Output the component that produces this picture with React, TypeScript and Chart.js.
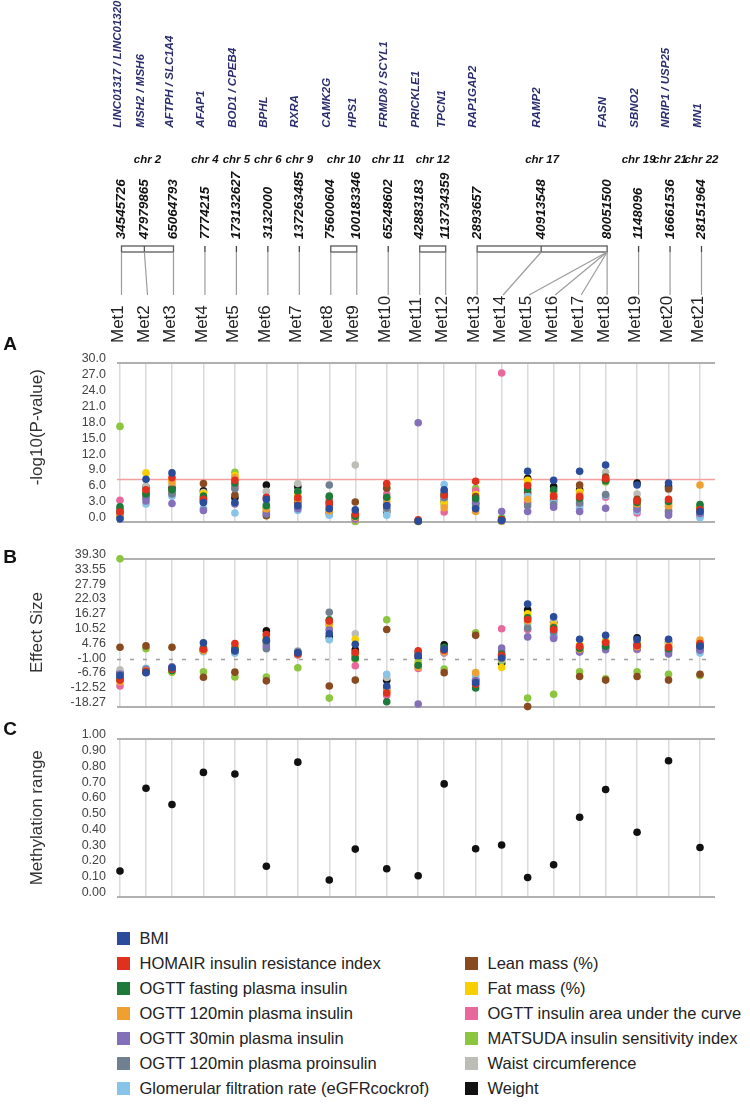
import React, { useEffect, useRef } from 'react';
import { Chart, registerables } from 'chart.js';

Chart.register(...registerables);

// ---------------- data ----------------
const metLabels = ['Met1', 'Met2', 'Met3', 'Met4', 'Met5', 'Met6', 'Met7', 'Met8', 'Met9', 'Met10', 'Met11', 'Met12', 'Met13', 'Met14', 'Met15', 'Met16', 'Met17', 'Met18', 'Met19', 'Met20', 'Met21'];
const metChromosomes = ['2', '2', '2', '4', '5', '6', '9', '10', '10', '11', '12', '12', '17', '17', '17', '17', '17', '17', '19', '21', '22'];

const siteChromosomes = ['2', '2', '2', '4', '5', '6', '9', '10', '10', '11', '12', '12', '17', '17', '17', '19', '21', '22'];
const sitePositions = [34545726, 47979865, 65064793, 7774215, 173132627, 3132000, 137263485, 75600604, 100183346, 65248602, 42883183, 113734359, 2893657, 40913548, 80051500, 1148096, 16661536, 28151964];
const siteGenes = ['LINC01317 / LINC01320', 'MSH2 / MSH6', 'AFTPH / SLC1A4', 'AFAP1', 'BOD1 / CPEB4', 'BPHL', 'RXRA', 'CAMK2G', 'HPS1', 'FRMD8 / SCYL1', 'PRICKLE1', 'TPCN1', 'RAP1GAP2', 'RAMP2', 'FASN', 'SBNO2', 'NRIP1 / USP25', 'MN1'];
const siteMets = [[1], [2], [3], [4], [5], [6], [7], [8], [9], [10], [11], [12], [13], [14], [15, 16, 17, 18], [19], [20], [21]];

const traitNames = ['BMI', 'HOMAIR insulin resistance index', 'OGTT fasting plasma insulin', 'OGTT 120min plasma insulin', 'OGTT 30min plasma insulin', 'OGTT 120min plasma proinsulin', 'Glomerular filtration rate (eGFRcockrof)', 'Lean mass (%)', 'Fat mass (%)', 'OGTT insulin area under the curve', 'MATSUDA insulin sensitivity index', 'Waist circumference', 'Weight'];

// -log10(P-value), Met1..Met21
const pBMI = [0.5, 8.0, 9.2, 3.6, 3.6, 4.2, 3.0, 2.4, 2.2, 3.0, 0.1, 6.0, 2.4, 0.2, 9.5, 7.8, 9.5, 10.7, 6.9, 7.3, 1.9];
const pHOMAIR = [1.8, 6.0, 8.3, 4.2, 7.8, 4.6, 4.5, 3.3, 1.4, 7.2, 0.3, 5.0, 7.6, 0.3, 6.8, 4.8, 4.7, 8.1, 3.9, 4.2, 2.2];
const pFastingIns = [2.8, 5.2, 6.0, 4.8, 7.3, 3.0, 5.7, 4.8, 1.0, 4.6, 0.1, 5.2, 4.3, 0.4, 6.1, 6.0, 4.4, 7.7, 3.6, 3.8, 3.2];
const pIns120 = [1.2, 5.8, 7.5, 4.4, 8.3, 2.4, 4.2, 2.0, 0.8, 3.8, 0.1, 2.6, 1.9, 0.1, 4.2, 5.1, 5.1, 7.8, 3.3, 3.0, 6.9];
const pIns30 = [1.5, 3.9, 3.4, 2.1, 3.3, 1.6, 2.4, 2.8, 0.5, 3.2, 18.7, 5.6, 3.8, 1.9, 1.9, 2.7, 1.9, 2.5, 2.3, 1.2, 1.5];
const pProins120 = [1.0, 4.5, 5.2, 3.8, 6.2, 1.4, 2.8, 6.9, 0.9, 2.5, 0.1, 4.5, 3.0, 0.2, 3.0, 3.2, 3.5, 5.1, 3.0, 1.9, 1.7];
const pEGFR = [0.9, 3.3, 4.8, 2.5, 1.6, 3.3, 2.1, 1.2, 0.6, 1.2, 0.1, 7.0, 2.7, 0.1, 4.8, 3.6, 2.5, 4.9, 2.0, 1.6, 0.7];
const pLean = [2.2, 5.5, 6.2, 7.2, 5.0, 1.1, 3.8, 3.6, 3.7, 6.3, 0.0, 4.8, 4.7, 0.2, 5.5, 3.9, 6.9, 8.4, 4.2, 6.2, 2.4];
const pFat = [1.3, 9.2, 7.9, 5.3, 8.7, 1.9, 5.4, 2.1, 0.7, 4.3, 0.1, 3.6, 5.1, 0.1, 7.8, 5.4, 5.6, 7.9, 4.0, 2.8, 2.7];
const pAUC = [4.0, 4.8, 5.4, 4.0, 6.6, 2.1, 3.4, 3.9, 0.4, 5.2, 0.1, 1.8, 5.8, 28.1, 3.6, 4.5, 3.0, 4.6, 1.6, 2.2, 1.0];
const pMatsuda = [18.0, 5.0, 5.8, 4.5, 9.3, 2.7, 4.8, 4.5, 0.0, 6.6, 0.1, 3.2, 6.3, 0.7, 5.2, 5.7, 3.9, 7.5, 2.7, 3.4, 2.9];
const pWaist = [0.7, 6.7, 6.9, 5.5, 7.0, 5.7, 7.2, 1.9, 10.7, 2.2, 0.1, 4.0, 2.6, 0.0, 7.2, 4.2, 3.3, 9.3, 5.2, 6.0, 1.1];
const pWeight = [1.6, 6.5, 6.5, 5.8, 4.5, 6.9, 6.6, 1.6, 1.2, 1.9, 0.1, 3.9, 3.4, 0.3, 8.2, 6.6, 6.0, 7.8, 7.3, 6.6, 1.3];

// Effect size, Met1..Met21
const esBMI = [-6.2, -5.1, -3.2, 6.5, 3.4, 7.6, 2.6, 10.0, 5.9, -10.3, 1.5, 4.0, -9.0, 0.6, 21.6, 16.6, 7.9, 9.4, 7.8, 7.9, 5.2];
const esHOMAIR = [-8.0, -4.6, -3.8, 4.0, 6.2, 9.7, 2.2, 15.0, 2.8, -13.0, 3.4, 3.6, -9.6, 1.6, 15.6, 11.7, 5.2, 6.6, 5.4, 4.8, 6.2];
const esFastingIns = [-7.5, -4.8, -4.3, 4.2, 4.2, 7.3, 2.5, 15.5, 0.6, -16.4, -2.2, 4.8, -11.1, 2.1, 16.2, 12.3, 4.4, 5.2, 5.8, 4.2, 5.7];
const esIns120 = [-8.6, -4.4, -4.0, 3.4, 5.1, 8.9, 2.1, 14.3, 1.5, -12.4, -3.0, 3.0, -5.1, 0.3, 15.0, 12.9, 4.0, 6.2, 5.0, 5.2, 7.6];
const esIns30 = [-5.6, -4.0, -2.8, 3.5, 3.6, 5.7, 2.4, 11.7, 2.2, -11.5, -17.3, 3.0, -8.2, 4.5, 8.8, 8.2, 2.9, 3.8, 4.1, 2.2, 3.6];
const esProins120 = [-7.0, -3.8, -3.0, 4.5, 3.2, 4.2, 3.0, 18.4, 1.9, -11.0, 2.6, 3.3, -8.5, 3.3, 12.3, 10.6, 3.3, 4.8, 4.6, 3.5, 4.0];
const esEGFR = [-6.6, -3.4, -3.3, 3.0, 2.4, 5.0, 2.0, 7.7, 1.0, -5.7, -2.6, 2.8, -6.2, 0.0, 14.1, 9.6, 3.1, 4.4, 4.3, 3.8, 2.5];
const esLean = [4.8, 5.3, 4.8, -6.9, -4.9, -8.3, 2.0, -10.3, -8.0, 11.7, 2.2, -5.1, 9.4, 1.0, -18.3, 9.0, -6.6, -8.0, -6.6, -8.0, -5.7];
const esFat = [-7.8, -4.2, -4.4, 3.8, 4.6, 8.3, 2.3, 12.8, 7.9, -12.0, -2.0, 3.8, -5.5, -3.1, 17.8, 13.5, 5.6, 7.0, 6.2, 5.6, 6.8];
const esAUC = [-10.3, -4.3, -3.6, 3.2, 4.0, 7.0, 1.8, 13.5, -2.4, -14.0, -3.5, 2.5, -9.8, 12.0, 11.7, 11.2, 3.6, 5.7, 3.9, 3.0, 4.4];
const esMatsuda = [39.2, 4.2, -4.9, -4.8, -6.8, -6.8, -3.2, -15.0, 0.1, 15.5, -1.0, -3.7, 10.4, -0.5, -15.0, -13.5, -4.8, -7.5, -4.8, -5.7, -6.2];
const esWaist = [-4.0, -3.9, -3.5, 5.0, 3.0, 6.6, 3.4, 11.2, 10.0, -7.0, 2.0, 4.4, -7.0, 1.3, 16.9, 15.2, 4.6, 7.6, 7.2, 6.3, 3.2];
const esWeight = [-5.1, -4.9, -4.1, 3.6, 3.9, 11.2, 2.6, 8.8, 3.8, -8.1, 1.0, 5.7, -7.8, -1.4, 19.3, 14.5, 4.9, 6.9, 8.5, 6.8, 4.8];

const methylationRange = [0.162, 0.687, 0.584, 0.788, 0.778, 0.192, 0.853, 0.105, 0.301, 0.176, 0.132, 0.715, 0.303, 0.327, 0.121, 0.202, 0.503, 0.679, 0.408, 0.862, 0.311];

const pValueTicks = [0, 3, 6, 9, 12, 15, 18, 21, 24, 27, 30];
const effectTicks = [-18.27, -12.52, -6.76, -1.0, 4.76, 10.52, 16.27, 22.03, 27.79, 33.55, 39.3];
const methylationTicks = [0, 0.1, 0.2, 0.3, 0.4, 0.5, 0.6, 0.7, 0.8, 0.9, 1.0];
const pThreshold = 7.95;
const effectZero = 0;

const pValues = [pBMI, pHOMAIR, pFastingIns, pIns120, pIns30, pProins120, pEGFR, pLean, pFat, pAUC, pMatsuda, pWaist, pWeight];
const effectSizes = [esBMI, esHOMAIR, esFastingIns, esIns120, esIns30, esProins120, esEGFR, esLean, esFat, esAUC, esMatsuda, esWaist, esWeight];

// ---------------- style / layout ----------------
const traitColors = ['#2b4c9b', '#e0301e', '#1e7a3a', '#f0a030', '#8470b8', '#708090', '#88c4e8', '#8a4a20', '#f8d000', '#e8689c', '#8cc63e', '#bdbdb8', '#111111'];
const FONT = '"Liberation Sans", Arial, Helvetica, sans-serif';
Chart.defaults.font.family = FONT;

const SAME_CHR_STEP = 1;
const NEW_CHR_STEP = 1.21;
const metX: number[] = [];
metChromosomes.forEach((c, i) => {
  metX.push(i === 0 ? 0 : metX[i - 1] + (c === metChromosomes[i - 1] ? SAME_CHR_STEP : NEW_CHR_STEP));
});
const X_MIN = metX[0] - 0.115;
const X_MAX = metX[metX.length - 1] + 0.577;

const CHART_LEFT = 117;
const POINT_R = 3.8;

function xScale() {
  return {
    type: 'linear',
    min: X_MIN,
    max: X_MAX,
    afterBuildTicks: (s: any) => { s.ticks = metX.map((v) => ({ value: v })); },
    afterFit: (s: any) => { s.height = 0; },
    ticks: { display: false },
    grid: { color: '#dadada', lineWidth: 1.5, drawTicks: false },
    border: { display: false },
  };
}

function yScale(min: number, max: number, ticks: number[], digits: number) {
  return {
    type: 'linear',
    min,
    max,
    afterBuildTicks: (s: any) => { s.ticks = ticks.map((v) => ({ value: v })); },
    afterFit: (s: any) => { s.width = CHART_LEFT; },
    ticks: {
      autoSkip: false,
      padding: 11,
      labelOffset: -4,
      color: '#444',
      font: { size: 12.5, family: FONT },
      callback: (v: any) => Number(v).toFixed(digits),
    },
    grid: {
      drawTicks: false,
      lineWidth: 2,
      color: (c: any) => {
        const v = c.tick ? c.tick.value : NaN;
        return Math.abs(v - min) < 1e-9 || Math.abs(v - max) < 1e-9 ? '#b0b0b0' : 'rgba(0,0,0,0)';
      },
    },
    border: { display: false },
  };
}

function vText(ctx: CanvasRenderingContext2D, text: string, x: number, y: number, font: string, color: string, align: CanvasTextAlign = 'left') {
  ctx.save();
  ctx.translate(x, y);
  ctx.rotate(-Math.PI / 2);
  ctx.font = font;
  ctx.fillStyle = color;
  ctx.textAlign = align;
  ctx.textBaseline = 'middle';
  ctx.fillText(text, 0, 0);
  ctx.restore();
}

function drawTitleAndLetter(chart: any, title: string, shift: number, letter: string, letterY: number) {
  const ctx = chart.ctx as CanvasRenderingContext2D;
  const a = chart.chartArea;
  vText(ctx, title, 37, (a.top + a.bottom) / 2 + shift, `17px ${FONT}`, '#333', 'center');
  ctx.save();
  ctx.font = `bold 19px ${FONT}`;
  ctx.fillStyle = '#111';
  ctx.textAlign = 'center';
  ctx.textBaseline = 'middle';
  ctx.fillText(letter, 10, letterY);
  ctx.restore();
}

function drawAnnotation(chart: any) {
  const ctx = chart.ctx as CanvasRenderingContext2D;
  const xs = chart.scales.x;
  const DX = 1.5;
  const metPx = (m: number) => xs.getPixelForValue(metX[m - 1]);
  const groups: { chr: string; sites: number[]; x0: number; x1: number }[] = [];
  siteChromosomes.forEach((c, s) => {
    const g = groups[groups.length - 1];
    if (g && g.chr === c) g.sites.push(s);
    else groups.push({ chr: c, sites: [s], x0: 0, x1: 0 });
  });
  const siteX: number[] = [];
  groups.forEach((g) => {
    const first = g.sites[0];
    const last = g.sites[g.sites.length - 1];
    const lm = siteMets[last];
    g.x0 = metPx(siteMets[first][0]) + DX;
    g.x1 = metPx(lm[lm.length - 1]) + DX;
    const p0 = sitePositions[first];
    const p1 = sitePositions[last];
    g.sites.forEach((s) => {
      siteX[s] = g.sites.length === 1 ? g.x0 : g.x0 + ((g.x1 - g.x0) * (sitePositions[s] - p0)) / (p1 - p0);
    });
  });

  // gene names
  siteGenes.forEach((gname, s) => vText(ctx, gname, siteX[s] - 4, 127.7, `italic bold 11.5px ${FONT}`, '#2b2d6e'));
  // chromosome labels
  ctx.save();
  ctx.font = `italic bold 11.5px ${FONT}`;
  ctx.fillStyle = '#111';
  ctx.textAlign = 'center';
  ctx.textBaseline = 'middle';
  groups.forEach((g) => ctx.fillText('chr ' + g.chr, (g.x0 + g.x1) / 2, 160));
  ctx.restore();
  // positions
  sitePositions.forEach((p, s) => vText(ctx, String(p), siteX[s], 239.3, `italic bold 13.5px ${FONT}`, '#111'));

  // brackets
  ctx.save();
  ctx.lineWidth = 1.3;
  groups.forEach((g) => {
    ctx.strokeStyle = '#5a5a5a';
    if (g.sites.length > 1) {
      ctx.strokeRect(g.x0, 246, g.x1 - g.x0, 6);
      g.sites.slice(1, -1).forEach((s) => {
        ctx.beginPath();
        ctx.moveTo(siteX[s], 246);
        ctx.lineTo(siteX[s], 252);
        ctx.stroke();
      });
    } else {
      ctx.strokeStyle = '#444';
      ctx.beginPath();
      ctx.moveTo(g.x0, 246);
      ctx.lineTo(g.x0, 252);
      ctx.stroke();
    }
  });
  // connectors
  ctx.strokeStyle = '#9c9c9c';
  ctx.lineWidth = 1.2;
  siteMets.forEach((mets, s) => {
    mets.forEach((m) => {
      ctx.beginPath();
      ctx.moveTo(siteX[s], 252);
      ctx.lineTo(metPx(m) + DX, 295);
      ctx.stroke();
    });
  });
  ctx.restore();

  // Met labels
  metLabels.forEach((lab, i) => vText(ctx, lab, metPx(i + 1) - 1.5, 343, `17px ${FONT}`, '#222'));
}

function hLine(chart: any, value: number, color: string, width: number, dash: number[]) {
  const ctx = chart.ctx as CanvasRenderingContext2D;
  const a = chart.chartArea;
  const y = chart.scales.y.getPixelForValue(value);
  ctx.save();
  ctx.strokeStyle = color;
  ctx.lineWidth = width;
  ctx.setLineDash(dash);
  ctx.beginPath();
  ctx.moveTo(a.left, y);
  ctx.lineTo(a.right, y);
  ctx.stroke();
  ctx.restore();
}

function traitDatasets(values: number[][]) {
  return values.map((arr, k) => ({
    label: traitNames[k],
    data: arr.map((v, i) => ({ x: metX[i], y: v })),
    backgroundColor: traitColors[k],
    borderColor: traitColors[k],
    pointRadius: POINT_R,
    pointBorderWidth: 0,
    borderWidth: 0,
    clip: false,
  }));
}

function baseOptions(padTop: number, padBottom: number, y: any) {
  return {
    responsive: false,
    animation: false,
    events: [],
    layout: { padding: { top: padTop, bottom: padBottom, left: 0, right: 35 } },
    plugins: { legend: { display: false }, tooltip: { enabled: false } },
    scales: { x: xScale(), y },
  };
}

function configA(): any {
  return {
    type: 'scatter',
    data: { datasets: traitDatasets(pValues) },
    options: baseOptions(363, 12, yScale(0, 30, pValueTicks, 1)),
    plugins: [{
      id: 'panelA',
      beforeDatasetsDraw: (c: any) => hLine(c, pThreshold, '#f2a0a0', 1.5, []),
      afterDraw: (c: any) => {
        drawAnnotation(c);
        drawTitleAndLetter(c, '-log10(P-value)', -15, 'A', 345);
      },
    }],
  };
}

function configB(): any {
  return {
    type: 'scatter',
    data: { datasets: traitDatasets(effectSizes) },
    options: baseOptions(11, 9, yScale(effectTicks[0], effectTicks[effectTicks.length - 1], effectTicks, 2)),
    plugins: [{
      id: 'panelB',
      beforeDatasetsDraw: (c: any) => hLine(c, effectZero, '#a0a0a0', 1.5, [4, 9]),
      afterDraw: (c: any) => drawTitleAndLetter(c, 'Effect Size', 0, 'B', 18),
    }],
  };
}

function configC(): any {
  return {
    type: 'scatter',
    data: {
      datasets: [{
        label: 'Methylation range',
        data: methylationRange.map((v, i) => ({ x: metX[i], y: v })),
        backgroundColor: '#111',
        borderColor: '#111',
        pointRadius: POINT_R,
        pointBorderWidth: 0,
        borderWidth: 0,
        clip: false,
      }],
    },
    options: baseOptions(27, 11, yScale(0, 1, methylationTicks, 2)),
    plugins: [{
      id: 'panelC',
      afterDraw: (c: any) => drawTitleAndLetter(c, 'Methylation range', 0, 'C', 18),
    }],
  };
}

function Panel({ top, height, make }: { top: number; height: number; make: () => any }) {
  const ref = useRef<HTMLCanvasElement>(null);
  useEffect(() => {
    const chart = new Chart(ref.current as HTMLCanvasElement, make());
    return () => chart.destroy();
  }, []);
  return (
    <canvas
      ref={ref}
      width={750}
      height={height}
      style={{ position: 'absolute', left: 0, top, width: 750, height }}
    />
  );
}

function LegendItem({ x, y, color, name }: { x: number; y: number; color: string; name: string }) {
  return (
    <div
      style={{
        position: 'absolute',
        left: x,
        top: y - 10,
        height: 20,
        display: 'flex',
        alignItems: 'center',
        font: `16.5px ${FONT}`,
        color: '#222',
        whiteSpace: 'nowrap',
      }}
    >
      <span style={{ display: 'inline-block', width: 13, height: 13, background: color, marginRight: 9.5 }} />
      {name}
    </div>
  );
}

export default function App() {
  const leftCount = 7;
  return (
    <div style={{ position: 'absolute', left: 0, top: 0, width: 750, height: 1107, background: '#fff', overflow: 'hidden' }}>
      <Panel top={0} height={540} make={configA} />
      <Panel top={540} height={185} make={configB} />
      <Panel top={712} height={203} make={configC} />
      {traitNames.map((name, k) => {
        const left = k < leftCount;
        const row = left ? k : k - leftCount + 1;
        return (
          <LegendItem
            key={name}
            x={left ? 117 : 465}
            y={938 + row * 25}
            color={traitColors[k]}
            name={name}
          />
        );
      })}
    </div>
  );
}
